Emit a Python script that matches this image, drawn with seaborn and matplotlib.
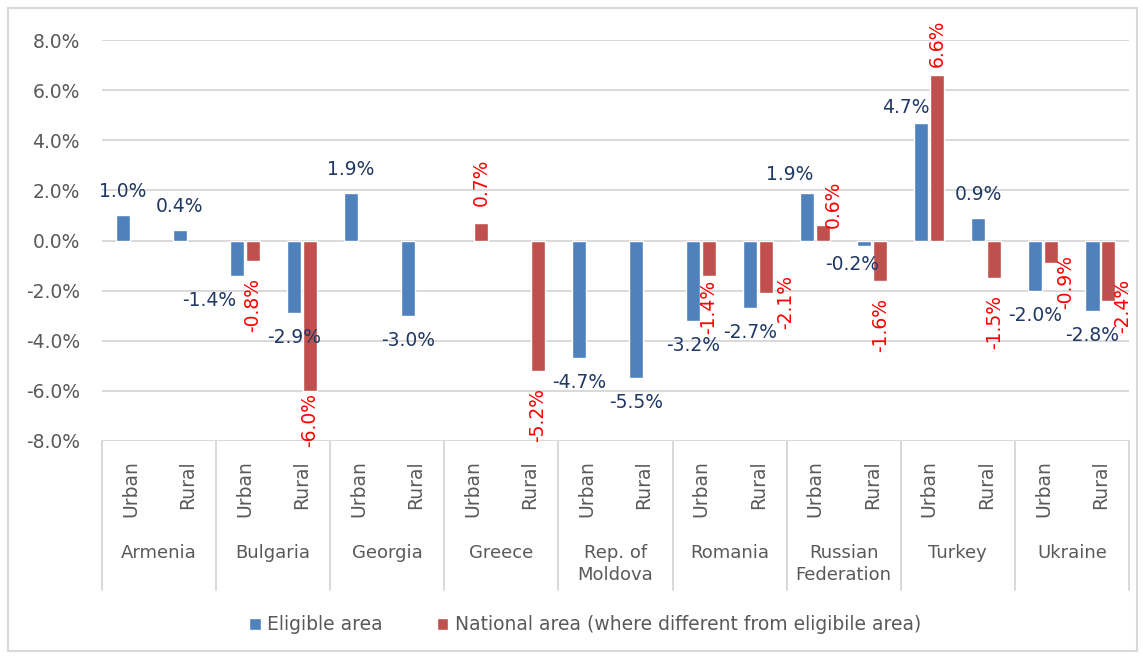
import numpy as np
import pandas as pd
import seaborn as sns
import matplotlib.pyplot as plt
from matplotlib.patches import Rectangle

sns.set_style('white')
plt.rcParams['font.family'] = ['DejaVu Sans']

# Data (percent change)
countries = ["Armenia", "Bulgaria", "Georgia", "Greece", "Rep. of\nMoldova",
             "Romania", "Russian\nFederation", "Turkey", "Ukraine"]
areas = ["Urban", "Rural"]
series = ["Eligible area", "National area (where different from eligibile area)"]
eligible = [1.0, 0.4, -1.4, -2.9, 1.9, -3.0, np.nan, np.nan, -4.7, -5.5,
            -3.2, -2.7, 1.9, -0.2, 4.7, 0.9, -2.0, -2.8]
national = [np.nan, np.nan, -0.8, -6.0, np.nan, np.nan, 0.7, -5.2, np.nan, np.nan,
            -1.4, -2.1, 0.6, -1.6, 6.6, -1.5, -0.9, -2.4]
yticks = [-8, -6, -4, -2, 0, 2, 4, 6, 8]

BLUE, RED = '#4F81BD', '#C0504D'
GRID = '#D9D9D9'
TXT = '#595959'

# Long-form table for seaborn
slots = [f"{c}|{a}" for c in countries for a in areas]
df = pd.DataFrame({
    'slot': slots * 2,
    'value': eligible + national,
    'series': [series[0]] * len(slots) + [series[1]] * len(slots),
}).dropna()

fig = plt.figure(figsize=(11.43, 6.57), dpi=100)
ax = fig.add_axes([102 / 1143, 1 - 441 / 657, 1027 / 1143, 401 / 657])

sns.barplot(data=df, x='slot', y='value', hue='series', order=slots, hue_order=series,
            palette=[BLUE, RED], width=0.56, gap=0.12, errorbar=None, saturation=1,
            ax=ax, zorder=3)

ax.set_xlim(-0.5, len(slots) - 0.5)
ax.set_ylim(-8, 8)
ax.set_yticks(yticks)
ax.set_yticklabels([f"{v:.1f}%" for v in yticks])
ax.yaxis.grid(True, color=GRID, lw=1.4, zorder=0)
ax.set_axisbelow(True)
for s in ax.spines.values():
    s.set_visible(False)
ax.set_xlabel('')
ax.set_ylabel('')
ax.tick_params(axis='y', length=0, pad=16, labelsize=13.5, labelcolor=TXT)
ax.tick_params(axis='x', length=0, pad=14, labelsize=13.5, labelcolor=TXT)
ax.set_xticks(range(len(slots)))
ax.set_xticklabels([a for c in countries for a in areas], rotation=90, va='top')

# Multi-level category axis: country names and separators
trans = ax.get_xaxis_transform()
for i, c in enumerate(countries):
    ax.text(2 * i + 0.5, -0.257, c, transform=trans, ha='center', va='top',
            fontsize=13, color=TXT, linespacing=1.3, multialignment='center')
for b in range(len(countries) + 1):
    ax.plot([2 * b - 0.5, 2 * b - 0.5], [0, -0.372], transform=trans, clip_on=False,
            color=GRID, lw=1.4)

# Data labels; a few were moved by hand in the original (pixels, dx, dy)
nudge = {
    (0, 2): (-27, 0), (0, 12): (-18, -5), (0, 13): (-12, 6), (0, 14): (-16, -8),
    (1, 3): (0, 15), (1, 10): (0, 13), (1, 11): (19, 35), (1, 12): (10, -20),
    (1, 14): (0, -9), (1, 16): (14, 25), (1, 17): (14, 39),
}
for k, cont in enumerate(ax.containers):
    for bar in cont:
        h = bar.get_height()
        if np.isnan(h):
            continue
        xc = bar.get_x() + bar.get_width() / 2
        idx = int(round(xc))
        dx, dy = nudge.get((k, idx), (0, 0))
        if k == 0:
            pad = 14 if h >= 0 else -15
            ax.annotate(f"{h:.1f}%", (xc, h), xytext=(dx, pad + dy),
                        textcoords='offset pixels', ha='center',
                        va='bottom' if h >= 0 else 'top', fontsize=13.5,
                        color='#1F3864', annotation_clip=False, zorder=5)
        else:
            pad = 17 if h >= 0 else -17
            ax.annotate(f"{h:.1f}%", (xc, h), xytext=(dx, pad + dy),
                        textcoords='offset pixels', ha='center',
                        va='bottom' if h >= 0 else 'top', rotation=90, fontsize=13.5,
                        color='#FF0000', annotation_clip=False, zorder=5)

handles, labels = ax.get_legend_handles_labels()
if ax.get_legend() is not None:
    ax.get_legend().remove()
fig.legend(handles, labels, loc='center', bbox_to_anchor=(0.512, 0.049), ncol=2,
           frameon=False, handlelength=0.6, handleheight=0.6, handletextpad=0.35,
           columnspacing=2.9, fontsize=13.5, labelcolor=TXT)

# Chart area border
fig.patches.append(Rectangle((8 / 1143, 6 / 657), 1129 / 1143, 643 / 657,
                             transform=fig.transFigure, fill=False, ec=GRID, lw=1.5))

fig.savefig('out.png', dpi=100)
